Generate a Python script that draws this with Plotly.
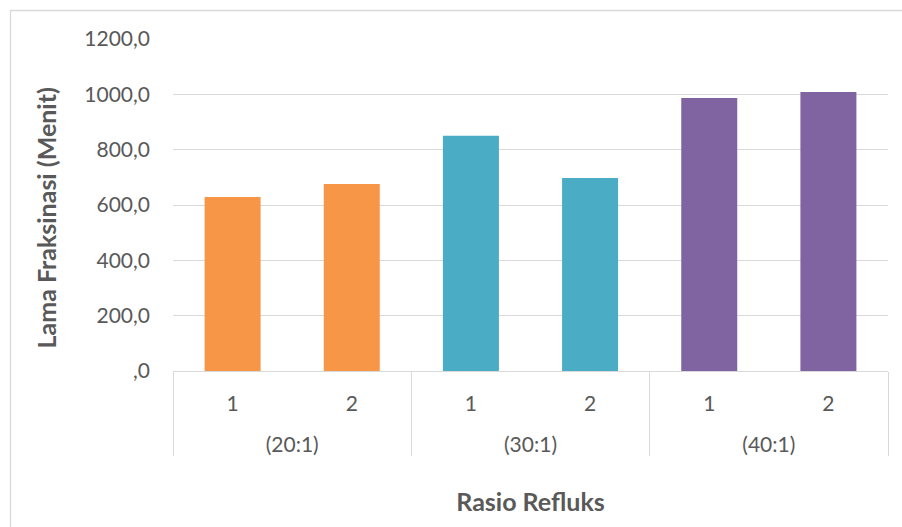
import plotly.graph_objects as go

# Reflux ratio groups and repetition number within each group
ratios = ["(20:1)", "(20:1)", "(30:1)", "(30:1)", "(40:1)", "(40:1)"]
runs = ["1", "2", "1", "2", "1", "2"]
# Fractionation time in minutes
minutes = [629, 676, 850, 698, 987, 1008]
bar_colors = ["#F79646", "#F79646", "#4BACC6", "#4BACC6", "#8064A2", "#8064A2"]

y_ticks = [0, 200, 400, 600, 800, 1000, 1200]
y_tick_text = [",0", "200,0", "400,0", "600,0", "800,0", "1000,0", "1200,0"]

TEXT = "#595959"
GRID = "#D9D9D9"
FONT = "Lato"

# an empty second line under each run number leaves room above the group row
run_labels = [r + "<br> " for r in runs]

fig = go.Figure(
    go.Bar(
        x=[ratios, run_labels],
        y=minutes,
        marker=dict(color=bar_colors, line=dict(width=0)),
        width=0.47,
    )
)

W, H = 902, 527
ml, mr, mt, mb = 173, 14, 39, 156
pw, ph = W - ml - mr, H - mt - mb


def px_x(p):
    return (p - ml) / pw


def px_y(p):
    return (H - mb - p) / ph


fig.update_layout(
    width=W,
    height=H,
    margin=dict(l=ml, r=mr, t=mt, b=mb),
    paper_bgcolor="white",
    plot_bgcolor="white",
    showlegend=False,
    font=dict(family=FONT, color=TEXT, size=21),
    shapes=[
        dict(
            type="rect",
            xref="paper",
            yref="paper",
            x0=px_x(10.5),
            x1=px_x(910),
            y0=px_y(540),
            y1=px_y(10.5),
            line=dict(color=GRID, width=1.3),
            fillcolor="rgba(0,0,0,0)",
            layer="below",
        )
    ],
)

fig.update_yaxes(
    range=[0, 1200],
    tickvals=y_ticks,
    ticktext=y_tick_text,
    showgrid=True,
    gridcolor=GRID,
    gridwidth=1.3,
    zeroline=False,
    showline=False,
    ticks="",
    ticklabelstandoff=22,
    tickfont=dict(size=21, color=TEXT),
    title=dict(
        # trailing spaces nudge the rotated title a little lower along the axis
        text="<b>Lama Fraksinasi (Menit)</b>&nbsp;&nbsp;&nbsp;&nbsp;",
        font=dict(size=25, color=TEXT),
        standoff=20,
    ),
)

fig.update_xaxes(
    type="multicategory",
    showline=True,
    linecolor=GRID,
    linewidth=1.3,
    showgrid=False,
    ticks="",
    ticklabelstandoff=14,
    showdividers=True,
    dividercolor=GRID,
    dividerwidth=1.3,
    tickfont=dict(size=21, color=TEXT),
    title=dict(
        text="<b>Rasio Refluks</b>",
        font=dict(size=25, color=TEXT),
        standoff=38,
    ),
)

fig.write_html("out.html")
